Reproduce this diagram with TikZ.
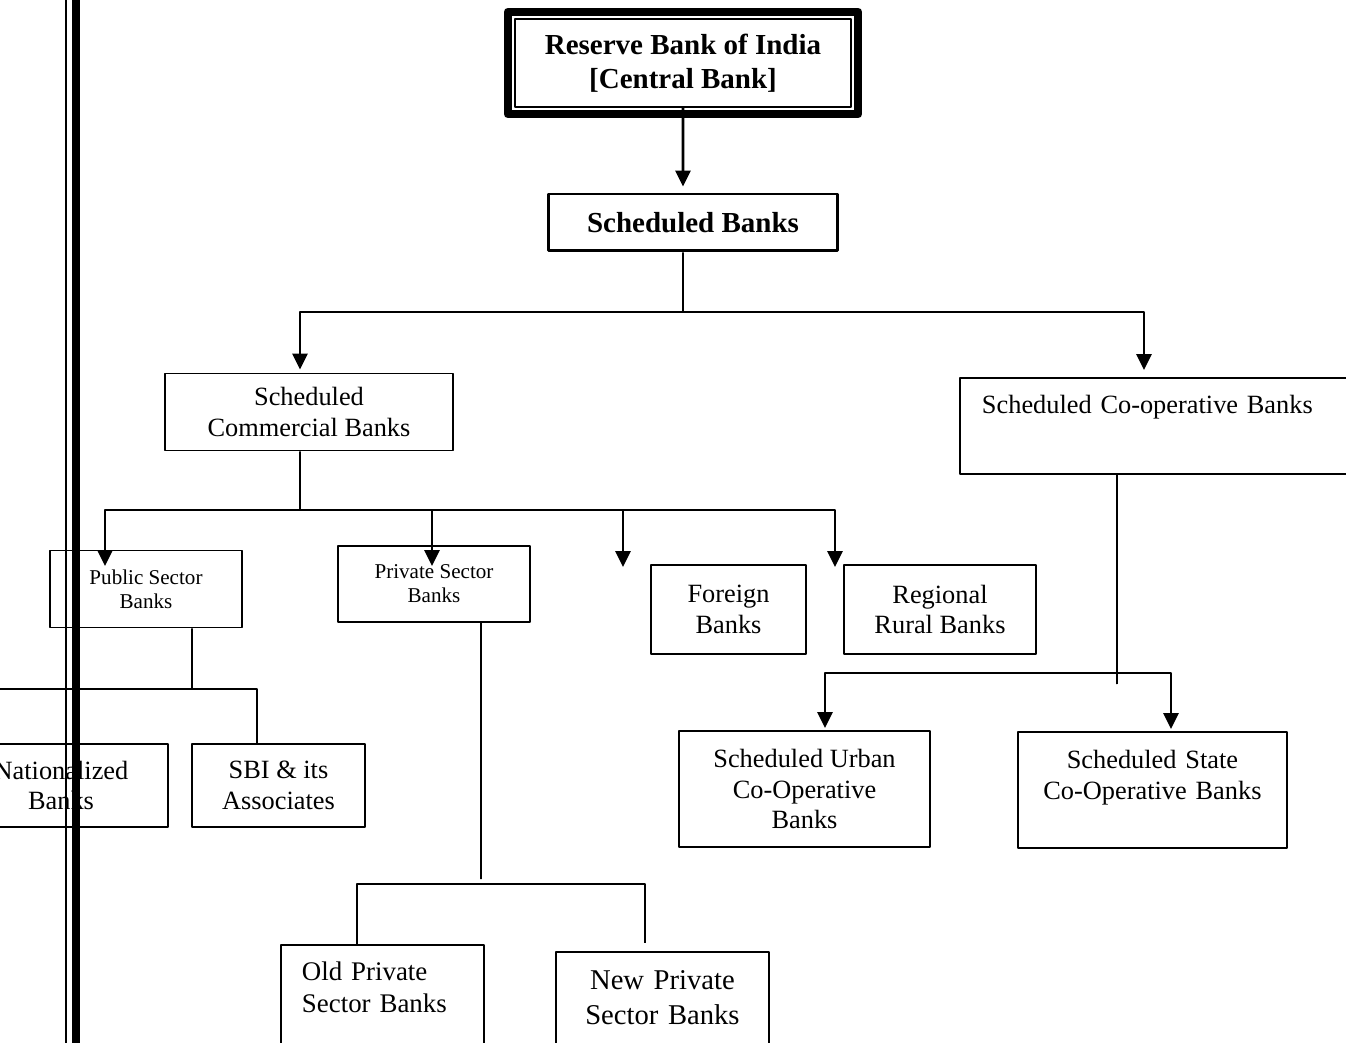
\documentclass[tikz,border=0pt]{standalone}
\usepackage{fontspec}
\setmainfont{Liberation Serif}
\usetikzlibrary{arrows.meta}
\begin{document}
\begin{tikzpicture}[x=0.02cm, y=-0.02cm, line join=round, >={Triangle[width=8.5pt,length=9pt]},
    font=\fontsize{15}{17.6}\selectfont,
    bankbox/.style={draw, line width=1.1pt, align=center, inner sep=0pt},
    headfont/.style={font=\fontsize{16.5}{19.3}\selectfont\bfseries},
    smallfont/.style={font=\fontsize{12}{13.6}\selectfont},
    link/.style={line width=1.1pt},
    feed/.style={->, line width=1.5pt}]
            \useasboundingbox (0,0) rectangle (1346,1043);
            % boxes
            \node[bankbox, line width=0.9pt, headfont, minimum width=6.72cm, minimum height=1.76cm] (rbi) at (683,63) {Reserve Bank of India\\{}[Central Bank]};
            \draw[line width=4.5pt] ([shift={(-0.13cm,-0.13cm)}]rbi.south west) rectangle ([shift={(0.13cm,0.13cm)}]rbi.north east);
            \node[bankbox, line width=1.7pt, headfont, minimum width=5.8cm, minimum height=1.14cm] (sb) at (693,222.5) {Scheduled Banks};
            \node[bankbox, minimum width=5.76cm, minimum height=1.54cm] (scb) at (309,412) {Scheduled\\Commercial Banks};
            \node[bankbox, anchor=north west, align=left, text width=7.14cm, inner xsep=0.44cm, text height=0.72cm, text depth=1.2cm] (coop) at (959,377) {Scheduled Co-operative Banks};
            \node[bankbox, smallfont, minimum width=3.84cm, minimum height=1.54cm] (psb) at (146,589) {Public Sector\\Banks};
            \node[bankbox, smallfont, minimum width=3.84cm, minimum height=1.52cm] (pvt) at (434,584) {Private Sector\\Banks};
            \node[bankbox, minimum width=3.1cm, minimum height=1.78cm] (frb) at (728.5,609.5) {Foreign\\Banks};
            \node[bankbox, minimum width=3.84cm, minimum height=1.78cm] (rrb) at (940,609.5) {Regional\\Rural Banks};
            \node[bankbox, minimum width=4.28cm, minimum height=1.66cm] (nat) at (61,785.5) {Nationalized\\Banks};
            \node[bankbox, minimum width=3.46cm, minimum height=1.66cm] (sbi) at (278.5,785.5) {SBI \& its\\Associates};
            \node[bankbox, minimum width=5.02cm, minimum height=2.32cm] (urb) at (804.5,789) {Scheduled Urban\\Co-Operative\\Banks};
            \node[bankbox, anchor=north west, text width=5.38cm, text height=0.74cm, text depth=1.58cm] (ssb) at (1017,731) {Scheduled State\\Co-Operative Banks};
            \node[bankbox, anchor=north west, align=left, text width=3.22cm, inner xsep=0.42cm, text height=0.72cm, text depth=1.6cm, font=\fontsize{15.3}{18.1}\selectfont] (old) at (280,944) {Old Private\\Sector Banks};
            \node[bankbox, anchor=north west, text width=4.26cm, text height=0.76cm, text depth=1.42cm, font=\fontsize{16.3}{19.8}\selectfont] (new) at (555,951) {New Private\\Sector Banks};
            % junctions
            \coordinate (j1) at (683,312);
            \coordinate (j2) at (300,510);
            \coordinate (j3) at (192,689);
            \coordinate (j4) at (481,879);
            \coordinate (j5) at (481,884);
            \coordinate (j6) at (1117,684);
            \coordinate (j7) at (1117,673);
            \coordinate (e3) at (623,567);
            \coordinate (e4) at (835,567);
            % connectors
            \draw[feed] (rbi.south) -- ([xshift=-0.2cm,yshift=0.12cm]sb.north);
            \draw[link] ([xshift=-0.2cm]sb.south) -- (j1);
            \draw[feed] (j1) -| ([xshift=-0.18cm,yshift=0.06cm]scb.north);
            \draw[feed] (j1) -| ([xshift=3.7cm,yshift=0.14cm]coop.north west);
            \draw[link] ([xshift=-0.18cm]scb.south) -- (j2);
            \draw[feed] (j2) -| ([xshift=-0.82cm,yshift=-0.33cm]psb.north);
            \draw[feed] (j2) -| ([xshift=-0.04cm,yshift=-0.42cm]pvt.north);
            \draw[feed] (j2) -| (e3);
            \draw[feed] (j2) -| (e4);
            \draw[link] ([xshift=0.92cm]psb.south) -- (j3);
            \draw[link] (j3) -| ([xshift=-1.82cm]nat.north);
            \draw[link] (j3) -| ([xshift=-0.43cm]sbi.north);
            \draw[link] ([xshift=0.94cm]pvt.south) -- (j4);
            \draw[link] ([xshift=1.54cm]old.north west) |- (j5) -| ([xshift=1.8cm,yshift=0.16cm]new.north west);
            \draw[link] ([xshift=3.16cm]coop.south west) -- (j6);
            \draw[feed] (j7) -| ([xshift=0.41cm,yshift=0.04cm]urb.north);
            \draw[feed] (j7) -| ([xshift=3.08cm,yshift=0.04cm]ssb.north west);
            % margin rule
            \draw[line width=1.7pt] (66,-5) -- (66,1050);
            \draw[line width=4.5pt] (76,-5) -- (76,1050);
\end{tikzpicture}
\end{document}
